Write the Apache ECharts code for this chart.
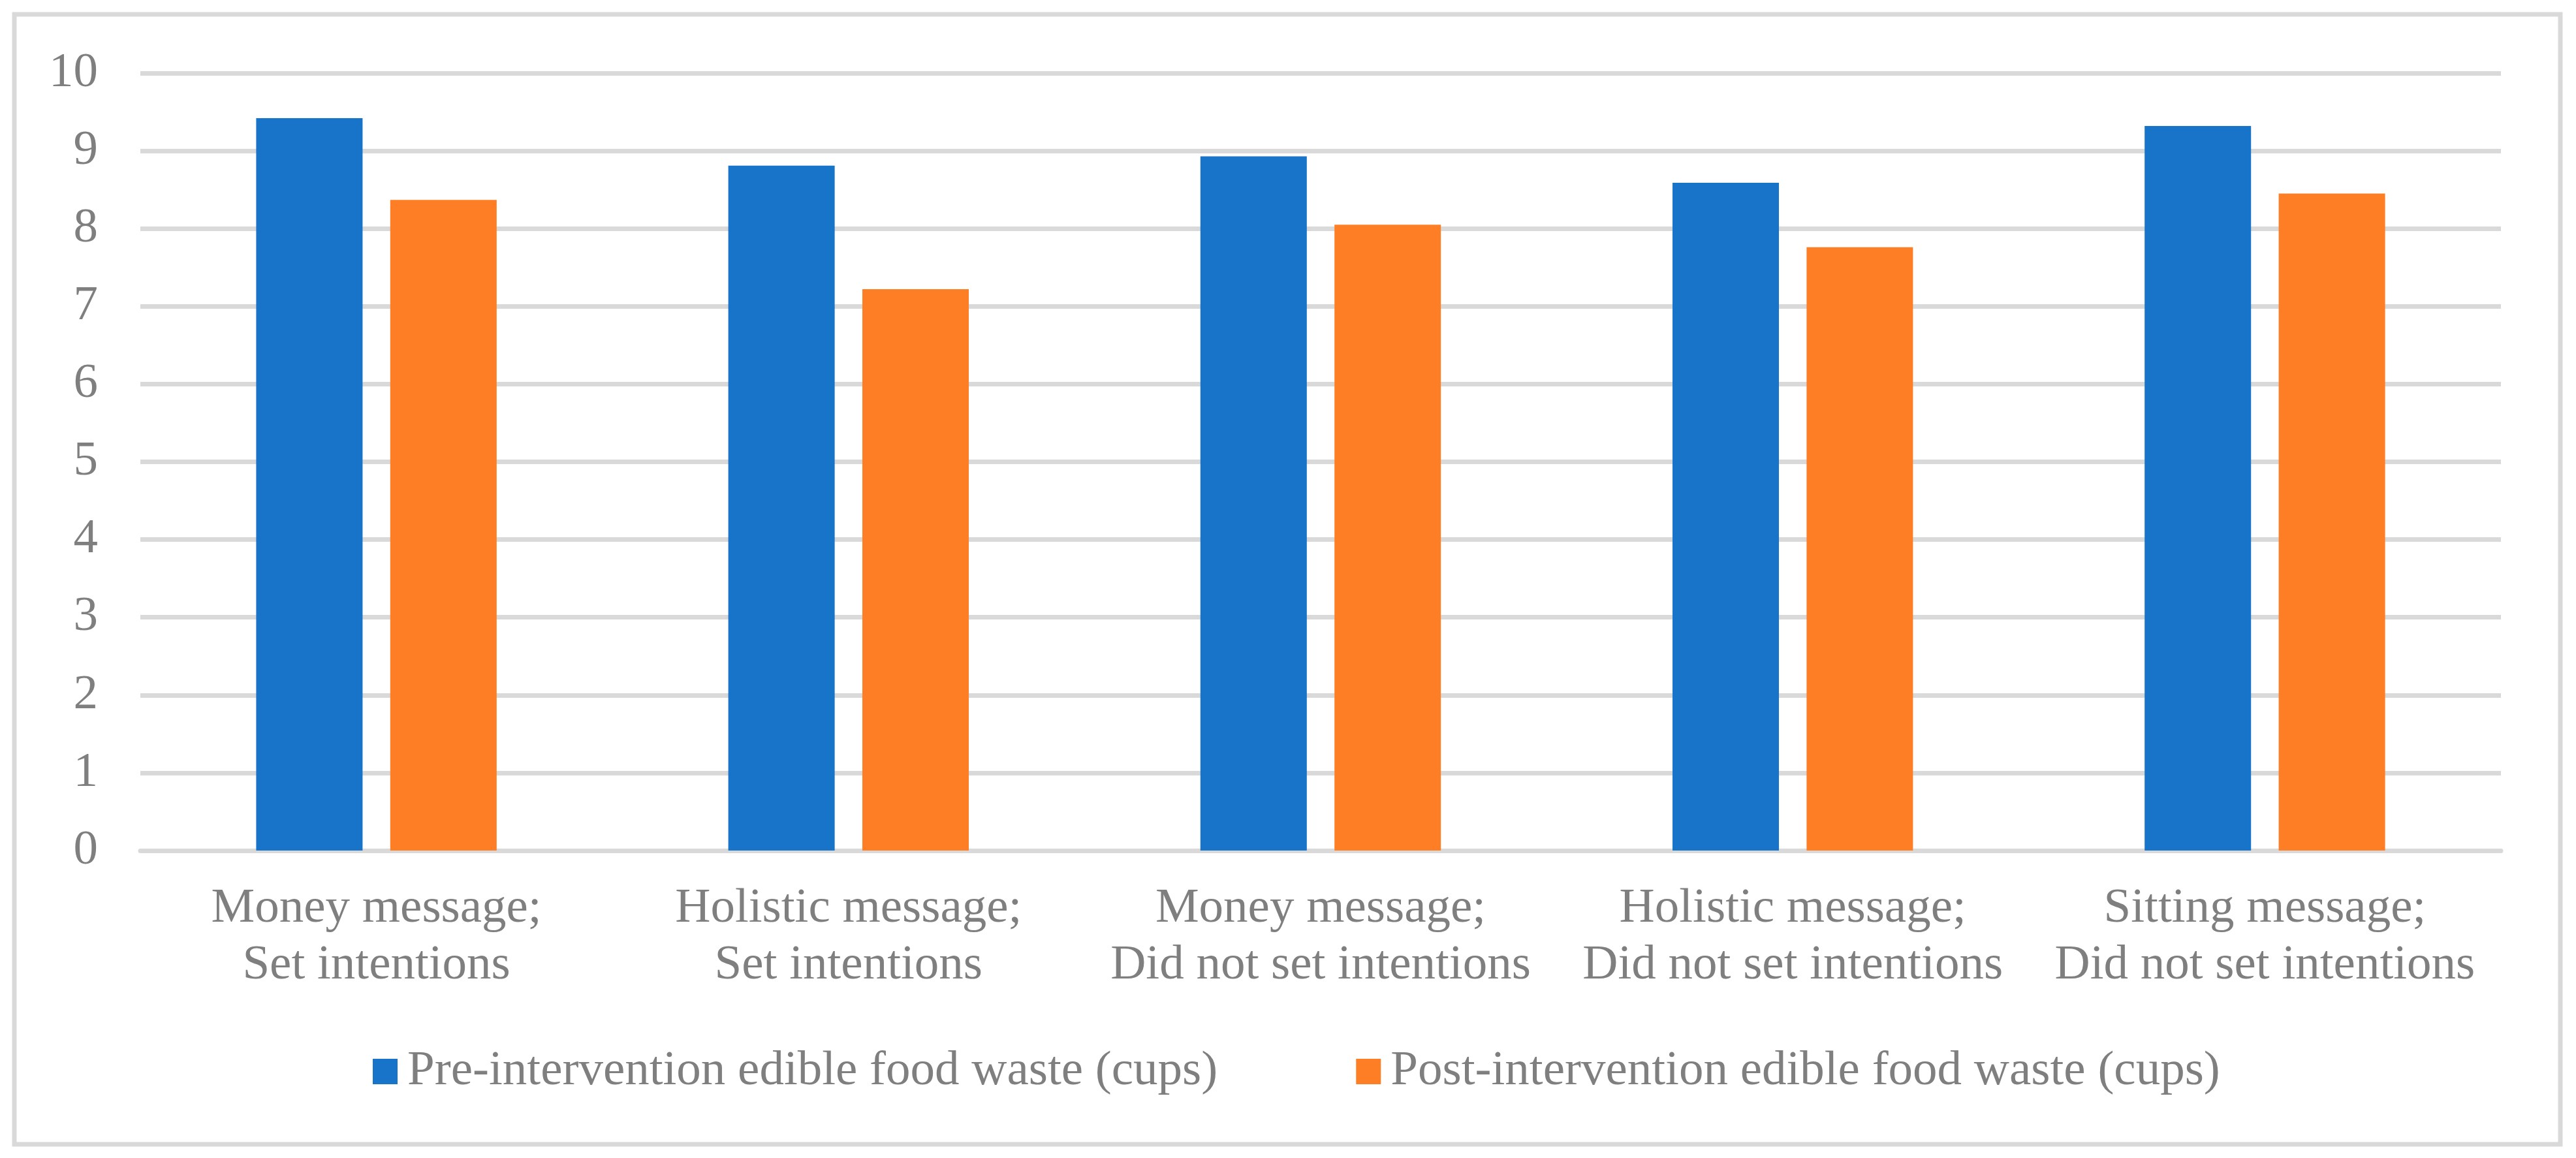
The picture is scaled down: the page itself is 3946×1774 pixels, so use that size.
<!DOCTYPE html>
<html>
<head>
<meta charset="utf-8">
<script src="https://cdn.jsdelivr.net/npm/echarts@6/dist/echarts.min.js"></script>
<style>
html,body{margin:0;padding:0;background:#fff;}
#chart{width:3946px;height:1774px;}
</style>
</head>
<body>
<div id="chart"></div>
<script>
const categories = [
  'Money message;\nSet intentions',
  'Holistic message;\nSet intentions',
  'Money message;\nDid not set intentions',
  'Holistic message;\nDid not set intentions',
  'Sitting message;\nDid not set intentions'
];
const seriesNames = [
  'Pre-intervention edible food waste (cups)',
  'Post-intervention edible food waste (cups)'
];
const preValues = [9.42, 8.81, 8.93, 8.59, 9.32];
const postValues = [8.37, 7.22, 8.05, 7.76, 8.45];
const yTicks = [0, 1, 2, 3, 4, 5, 6, 7, 8, 9, 10];

const FONT = '"Liberation Serif", "Times New Roman", serif';
const TXT = '#7f7f7f';
const GRID = '#d9d9d9';

const chart = echarts.init(document.getElementById('chart'), null, {renderer: 'canvas'});
chart.setOption({
  animation: false,
  backgroundColor: '#ffffff',
  graphic: [{
    type: 'rect',
    shape: {x: 22, y: 22, width: 3900, height: 1731},
    style: {fill: 'none', stroke: GRID, lineWidth: 7},
    silent: true
  }],
  grid: {left: 215, right: 115, top: 112, bottom: 471, containLabel: false},
  legend: {
    data: seriesNames,
    left: 566,
    top: 1599,
    itemWidth: 38,
    itemHeight: 39,
    itemGap: 212,
    icon: 'rect',
    textStyle: {fontFamily: FONT, fontSize: 75, color: TXT, padding: [0, 0, 0, 10]}
  },
  xAxis: {
    type: 'category',
    data: categories,
    axisTick: {show: false},
    axisLine: {show: true, lineStyle: {color: GRID, width: 7}},
    axisLabel: {
      fontFamily: FONT, fontSize: 75, color: TXT,
      lineHeight: 87, margin: 46, interval: 0
    }
  },
  yAxis: {
    type: 'value',
    min: yTicks[0],
    max: yTicks[yTicks.length - 1],
    interval: 1,
    axisLine: {show: false},
    axisTick: {show: false},
    splitLine: {show: true, lineStyle: {color: GRID, width: 7}},
    axisLabel: {fontFamily: FONT, fontSize: 75, color: TXT, margin: 65}
  },
  series: [
    {
      name: seriesNames[0], type: 'bar', data: preValues,
      barWidth: 163, barGap: '26%',
      itemStyle: {color: '#1874c9'}
    },
    {
      name: seriesNames[1], type: 'bar', data: postValues,
      barWidth: 163, barGap: '26%',
      itemStyle: {color: '#fe7e26'}
    }
  ]
});
</script>
</body>
</html>
